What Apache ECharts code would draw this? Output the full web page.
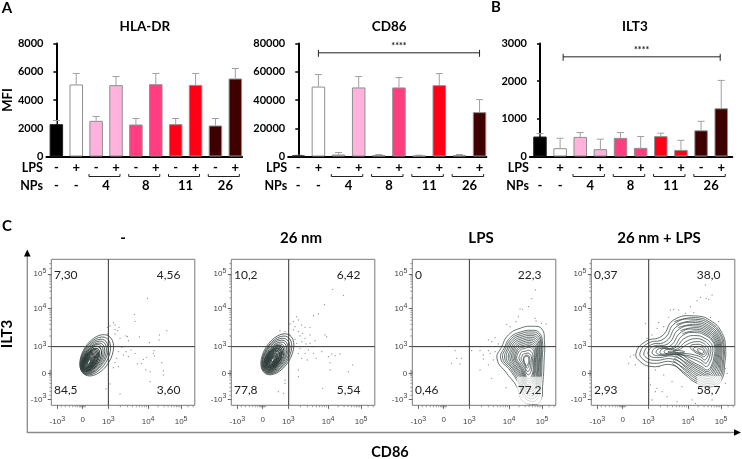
<!DOCTYPE html>
<html>
<head>
<meta charset="utf-8">
<style>
	html, body {margin: 0; padding: 0; background: #fff;}
	#main {width: 742px; height: 459px;}
</style>
<script src="https://cdn.jsdelivr.net/npm/echarts@6/dist/echarts.min.js"></script>
</head>
<body>
<div id="main"></div>
<script>
const barColors = ['#000000', '#ffffff', '#ffb3dc', '#ffb3dc', '#ff3d80', '#ff3d80', '#ff0016', '#ff0016', '#3f0000', '#3f0000']
const lpsLabels = ['-', '+', '-', '+', '-', '+', '-', '+', '-', '+']
const npTicks = [0, 1, 2.5, 4.5, 6.5, 8.5]
const npLabels = ['-', '-', '4', '8', '11', '26']
const npGroups = [2, 4, 6, 8]

const hlaValues = [2290, 5100, 2525, 5050, 2265, 5120, 2290, 5070, 2195, 5520]
const hlaErrors = [2550, 5880, 2830, 5660, 2690, 5880, 2690, 5880, 2690, 6230]
const cd86Values = [700, 49500, 1400, 48900, 900, 48900, 600, 50500, 900, 31400]
const cd86Errors = [900, 58000, 2800, 56600, 1400, 55900, 900, 58700, 1400, 40300]
const ilt3Values = [530, 220, 520, 195, 495, 230, 540, 175, 695, 1280]
const ilt3Errors = [610, 485, 635, 460, 635, 530, 620, 430, 935, 2020]

const flowTicksX = [18, 94, 171, 290, 389]
const flowTicksY = [18, 95, 176, 290, 394]
const flowTickText = ['{b|-10}{s|3}', '{b|0}', '{b|10}{s|3}', '{b|10}{s|4}', '{b|10}{s|5}']
const flowMinorX = [30, 42, 54, 64, 72, 78, 84, 87, 90, 93, 96, 99, 102, 207, 228, 243, 255, 264, 272, 279, 285, 320, 338, 350, 360, 368, 375, 380, 385, 410, 425]
const flowMinorY = [30, 42, 54, 66, 76, 84, 89, 92, 95, 98, 101, 104, 208, 228, 243, 255, 264, 272, 279, 285, 322, 342, 354, 364, 372, 379, 385, 390, 410, 425]

const gates1 = [171, 176]
const gates2 = [172, 176]
const gates3 = [171, 176]
const gates4 = [172, 176]

const quad1 = ['7,30', '4,56', '84,5', '3,60']
const quad2 = ['10,2', '6,42', '77,8', '5,54']
const quad3 = ['0', '22,3', '0,46', '77,2']
const quad4 = ['0,37', '38,0', '2,93', '58,7']

// x, y, long radius, short radius (flow channels)
const ellipses1 = [[136, 150, 68, 42], [132, 148, 63, 37], [129, 146, 58, 33], [127, 144, 54, 30], [125, 142, 50, 27], [123, 141, 46, 25], [121, 139, 42, 23], [119, 137, 38, 20], [118, 136, 35, 18], [117, 135, 32, 17], [116, 134, 29, 15], [115, 133, 26, 13], [114, 132, 23, 12], [114, 131, 20, 10], [113, 130, 17, 9], [113, 130, 14, 7], [113, 130, 11, 5], [113, 130, 8, 3]]
const ellipses2 = [[138, 153, 68, 40], [136, 151, 63, 36], [134, 149, 58, 33], [132, 147, 54, 30], [131, 145, 50, 27], [129, 143, 46, 25], [128, 142, 42, 23], [127, 141, 38, 20], [126, 140, 35, 19], [126, 140, 32, 17], [125, 139, 29, 15], [125, 138, 26, 14], [124, 137, 23, 12], [124, 137, 20, 10], [124, 136, 17, 9], [124, 136, 14, 7], [124, 136, 11, 5], [124, 136, 7, 3]]

const rings3 = [
	[[361, 237], [388, 229], [396, 191], [395, 136], [391, 66], [383, 11], [358, 3], [328, 16], [313, 56], [283, 96], [254, 139], [268, 176], [288, 211], [323, 231]],
	[[358, 225], [380, 218], [390, 190], [389, 136], [385, 66], [375, 20], [355, 12], [332, 30], [318, 66], [293, 105], [265, 140], [277, 175], [295, 205], [325, 220]],
	[[357, 220], [378, 213], [387, 187], [386, 136], [382, 70], [372, 28], [353, 20], [333, 38], [320, 70], [296, 108], [271, 140], [281, 173], [298, 201], [326, 215]],
	[[356, 214], [376, 208], [385, 185], [384, 136], [380, 75], [370, 35], [352, 28], [335, 45], [322, 75], [300, 110], [277, 140], [286, 172], [302, 198], [328, 210]],
	[[355, 209], [374, 203], [382, 182], [381, 136], [377, 78], [367, 42], [351, 35], [336, 50], [324, 80], [303, 111], [282, 140], [290, 170], [305, 194], [329, 205]],
	[[355, 204], [372, 198], [380, 180], [379, 136], [375, 82], [365, 48], [350, 42], [338, 56], [326, 84], [307, 112], [288, 140], [295, 168], [308, 190], [330, 200]],
	[[354, 199], [370, 193], [377, 176], [376, 136], [373, 86], [363, 54], [349, 48], [338, 61], [328, 87], [310, 114], [293, 140], [299, 166], [311, 186], [331, 195]],
	[[353, 194], [368, 188], [375, 172], [374, 136], [371, 90], [361, 60], [349, 55], [339, 66], [330, 90], [313, 115], [298, 140], [303, 165], [314, 182], [332, 190]],
	[[352, 189], [366, 183], [372, 168], [371, 136], [368, 94], [359, 66], [348, 61], [339, 72], [331, 94], [316, 118], [302, 140], [306, 162], [316, 178], [333, 185]],
	[[352, 184], [364, 178], [370, 165], [369, 136], [366, 98], [358, 72], [348, 68], [340, 78], [332, 98], [319, 120], [306, 140], [310, 160], [319, 174], [334, 180]],
	[[351, 179], [362, 173], [367, 161], [366, 136], [364, 101], [356, 78], [347, 74], [340, 83], [333, 101], [321, 122], [309, 140], [313, 158], [321, 170], [335, 175]],
	[[350, 174], [360, 168], [365, 158], [364, 136], [362, 105], [355, 84], [347, 80], [341, 88], [335, 104], [324, 124], [313, 140], [317, 156], [324, 166], [336, 170]],
	[[349, 165], [357, 160], [361, 150], [360, 136], [358, 112], [352, 94], [346, 92], [341, 98], [337, 110], [328, 126], [320, 140], [323, 152], [328, 160], [338, 162]],
	[[347, 157], [353, 152], [357, 145], [356, 134], [354, 116], [350, 104], [345, 102], [341, 106], [338, 116], [332, 128], [326, 140], [329, 148], [333, 154], [340, 155]],
	[[346, 150], [351, 145], [352, 134], [350, 120], [346, 112], [342, 114], [338, 124], [333, 136], [335, 146], [341, 150]],
	[[345, 147], [349, 138], [347, 124], [343, 118], [339, 122], [335, 132], [336, 144]]
]
const rings4 = [
	[[134, 156], [162, 191], [212, 208], [247, 256], [312, 268], [362, 251], [392, 216], [402, 176], [400, 126], [390, 76], [362, 56], [317, 66], [282, 91], [242, 121], [182, 116], [147, 131]],
	[[146, 158], [170, 186], [218, 200], [252, 247], [312, 258], [358, 242], [385, 212], [395, 176], [393, 130], [384, 86], [360, 66], [320, 76], [286, 100], [244, 130], [185, 126], [155, 138]],
	[[158, 158], [178, 181], [224, 192], [258, 238], [313, 248], [354, 233], [378, 208], [388, 176], [386, 134], [378, 96], [357, 76], [323, 86], [290, 108], [247, 138], [190, 135], [165, 143]],
	[[170, 159], [186, 177], [230, 185], [264, 229], [314, 238], [350, 225], [372, 204], [382, 176], [380, 140], [372, 106], [354, 86], [326, 96], [294, 116], [250, 146], [196, 143], [176, 148]],
	[[182, 160], [194, 173], [236, 178], [270, 220], [315, 228], [346, 217], [366, 200], [376, 176], [374, 144], [366, 114], [351, 96], [329, 106], [298, 124], [254, 152], [202, 149], [188, 151]],
	[[194, 160], [204, 170], [242, 172], [276, 211], [316, 218], [343, 209], [361, 195], [370, 174], [368, 148], [361, 122], [348, 106], [331, 116], [302, 131], [258, 157], [210, 153], [199, 154]],
	[[206, 161], [216, 170], [250, 172], [281, 202], [317, 209], [340, 201], [356, 189], [364, 172], [362, 150], [356, 130], [345, 116], [332, 125], [306, 138], [263, 152], [220, 150], [209, 154]],
	[[218, 161], [230, 168], [255, 168], [287, 193], [318, 200], [338, 193], [351, 183], [358, 170], [356, 152], [351, 136], [342, 126], [332, 134], [310, 144], [268, 152], [232, 153]],
	[[230, 161], [258, 165], [292, 185], [319, 191], [336, 186], [346, 177], [352, 168], [351, 154], [346, 142], [339, 136], [332, 142], [314, 150], [274, 156], [240, 156]],
	[[245, 162], [262, 164], [280, 160], [262, 158]],
	[[296, 177], [320, 183], [334, 179], [342, 172], [347, 165], [346, 156], [341, 148], [336, 146], [326, 152], [310, 160]],
	[[305, 170], [322, 176], [333, 173], [339, 166], [341, 158], [336, 152], [326, 156], [314, 162]],
	[[318, 168], [330, 168], [336, 162], [334, 156], [326, 158]]
]
// right side of the last panel has more levels than the left lobe, these stop where the levels merge
const arcs4 = [
	[[249, 251], [312, 263], [360, 246], [388, 214], [398, 176], [396, 128], [387, 81], [361, 61], [318, 71], [284, 95], [243, 125]],
	[[255, 242], [312, 253], [356, 237], [381, 210], [391, 176], [389, 132], [381, 91], [358, 71], [321, 81], [288, 104], [245, 134]],
	[[261, 233], [313, 243], [352, 229], [375, 206], [385, 176], [383, 137], [375, 101], [355, 81], [324, 91], [292, 112], [248, 142]],
	[[267, 224], [314, 233], [348, 221], [369, 202], [379, 176], [377, 142], [369, 110], [352, 91], [327, 101], [296, 120], [252, 149]],
	[[273, 215], [315, 223], [344, 213], [363, 197], [373, 175], [371, 146], [363, 118], [349, 101], [330, 111], [300, 127], [256, 154]]
]

const dots1 = [[288, 321], [249, 273], [251, 252], [186, 248], [191, 241], [176, 238], [168, 234], [203, 234], [191, 228], [198, 224], [168, 214], [191, 214], [224, 208], [228, 206], [206, 201], [264, 205], [346, 224], [324, 211], [323, 196], [294, 188], [231, 194], [239, 166], [251, 156], [211, 174], [224, 161], [201, 161], [216, 151], [231, 146], [196, 141], [191, 128], [201, 116], [186, 113], [308, 164], [306, 156], [309, 148], [286, 144], [276, 138], [258, 124], [271, 126], [296, 101], [283, 106], [331, 128], [336, 104], [336, 91], [296, 71], [206, 34], [176, 64], [164, 49], [176, 181]]
const dots2 = [[304, 348], [336, 330], [279, 302], [261, 274], [246, 269], [196, 266], [186, 251], [201, 256], [176, 244], [211, 241], [191, 236], [221, 234], [236, 234], [146, 224], [161, 221], [186, 226], [201, 221], [176, 211], [214, 216], [236, 211], [221, 201], [211, 191], [281, 211], [286, 206], [251, 194], [246, 176], [231, 166], [221, 156], [246, 156], [206, 171], [201, 156], [211, 141], [228, 136], [301, 154], [326, 154], [311, 149], [291, 146], [271, 161], [296, 128], [364, 121], [351, 101], [296, 106], [201, 106], [201, 86], [161, 76], [161, 66], [141, 41], [156, 36], [274, 51], [254, 141], [236, 186], [196, 186], [191, 198], [206, 208], [224, 184]]
const dots3 = [[369, 346], [358, 320], [348, 296], [323, 289], [331, 288], [318, 266], [368, 261], [311, 251], [283, 243], [293, 236], [371, 253], [387, 246], [401, 244], [228, 196], [248, 203], [238, 191], [258, 184], [248, 161], [178, 164], [203, 164], [228, 164], [213, 151], [233, 156], [213, 139], [243, 136], [128, 164], [133, 141], [148, 141], [118, 126], [143, 124], [228, 121], [203, 106], [238, 81], [281, 53]]
const dots4 = [[342, 361], [327, 324], [344, 321], [362, 331], [352, 318], [317, 314], [297, 296], [247, 288], [237, 286], [262, 286], [232, 264], [282, 276], [307, 278], [357, 264], [382, 251], [202, 248], [217, 236], [162, 246], [197, 231], [182, 211], [167, 201], [117, 146], [112, 126], [127, 151], [132, 121], [172, 81], [177, 61], [197, 51], [192, 41], [212, 41], [227, 26], [257, 11], [302, 16], [312, 6], [362, 16], [402, 66], [407, 96], [402, 111], [192, 106], [202, 116], [242, 71], [272, 56], [182, 16], [217, 91]]

const bold = 'Lato'
const tickFont = '"Liberation Sans"'
const lineGrey = '#a0a0a0'

const barPanels = [
	{title: 'HLA-DR', values: hlaValues, errors: hlaErrors, left: 43.9, width: 198.2, xMax: 9.34, max: 8000, interval: 2000, name: 'MFI'},
	{title: 'CD86', values: cd86Values, errors: cd86Errors, left: 288.2, width: 198.2, xMax: 9.34, max: 80000, interval: 20000, sig: [1, 9, 73400]},
	{title: 'ILT3', values: ilt3Values, errors: ilt3Errors, left: 529.9, width: 202.4, xMax: 9.55, max: 3000, interval: 1000, sig: [1.15, 8.95, 2646]}
]
const flowPanels = [
	{title: '-', titleX: 123, left: 51.3, ellipses: ellipses1, dots: dots1, gates: gates1, quad: quad1},
	{title: '26 nm', titleX: 301, left: 231.3, ellipses: ellipses2, dots: dots2, gates: gates2, quad: quad2},
	{title: 'LPS', titleX: 481, left: 412.3, rings: rings3, dots: dots3, gates: gates3, quad: quad3, patch: [313, 3, 388, 86]},
	{title: '26 nm + LPS', titleX: 659, left: 591.3, rings: rings4, arcs: arcs4, dots: dots4, gates: gates4, quad: quad4, patch: [317, 56, 390, 88]}
]

let grid = []
let xAxis = []
let yAxis = []
let series = []
let graphic = []

function headText(text, x, y, size, extra){
	return Object.assign({
		type: 'text',
		x: x,
		y: y,
		silent: true,
		style: {text: text, fill: '#000', font: `bold ${size}px ${bold}`, textAlign: 'center', textVerticalAlign: 'middle'}
	}, extra || {})
}

barPanels.forEach((p, n) => {
	let gridIndex = grid.length
	let xIndex = xAxis.length
	let yIndex = yAxis.length
	grid.push({left: p.left, top: 43.5, width: p.width, height: 113})
	xAxis.push({
		gridIndex: gridIndex,
		type: 'value',
		min: -0.5,
		max: p.xMax,
		splitLine: {show: false},
		axisLine: {lineStyle: {color: '#000', width: 2}},
		axisTick: {show: false},
		axisLabel: {
			customValues: lpsLabels.map((v, i) => i),
			formatter: v => lpsLabels[v],
			color: '#000',
			fontFamily: bold,
			fontWeight: 'bold',
			fontSize: 13,
			margin: 5
		}
	})
	xAxis.push({
		gridIndex: gridIndex,
		type: 'value',
		position: 'bottom',
		offset: 18,
		min: -0.5,
		max: p.xMax,
		splitLine: {show: false},
		axisLine: {show: false},
		axisTick: {show: false},
		axisLabel: {
			customValues: npTicks,
			formatter: v => npLabels[npTicks.indexOf(v)],
			color: '#000',
			fontFamily: bold,
			fontWeight: 'bold',
			fontSize: 13,
			margin: 5
		}
	})
	yAxis.push({
		gridIndex: gridIndex,
		type: 'value',
		min: 0,
		max: p.max,
		interval: p.interval,
		name: p.name,
		nameLocation: 'middle',
		nameGap: 27,
		nameTextStyle: {color: '#000', fontFamily: bold, fontWeight: 'bold', fontSize: 13},
		splitLine: {show: false},
		axisLine: {show: true, lineStyle: {color: '#000', width: 2}},
		axisTick: {show: true, length: 3, lineStyle: {color: '#000', width: 1.5}},
		axisLabel: {formatter: v => String(v), color: '#000', fontFamily: bold, fontWeight: 'bold', fontSize: 11, margin: 3}
	})
	series.push({
		type: 'bar',
		xAxisIndex: xIndex,
		yAxisIndex: yIndex,
		barWidth: 13.5,
		data: p.values.map((v, i) => ({
			value: [i, v],
			itemStyle: {color: barColors[i], borderColor: i === 0 ? '#222' : '#8f8f8f', borderWidth: 1}
		}))
	})
	// error bars, upper side only
	series.push({
		type: 'custom',
		xAxisIndex: xIndex,
		yAxisIndex: yIndex,
		clip: false,
		z: 1,
		data: p.values.map((v, i) => [i, v, p.errors[i]]),
		renderItem: (params, api) => {
			let low = api.coord([api.value(0), api.value(1)])
			let high = api.coord([api.value(0), api.value(2)])
			return {
				type: 'group',
				children: [
					{type: 'line', shape: {x1: low[0], y1: low[1], x2: high[0], y2: high[1]}, style: {stroke: lineGrey, lineWidth: 1}},
					{type: 'line', shape: {x1: high[0] - 3.5, y1: high[1], x2: high[0] + 3.5, y2: high[1]}, style: {stroke: lineGrey, lineWidth: 1}}
				]
			}
		}
	})
	// group brackets under the NP labels
	series.push({
		type: 'custom',
		xAxisIndex: xIndex,
		yAxisIndex: yIndex,
		clip: false,
		data: npGroups.map(v => [v]),
		renderItem: (params, api) => {
			let a = api.coord([api.value(0) - 0.36, 0])
			let b = api.coord([api.value(0) + 1.2, 0])
			let y = a[1] + 20
			return {
				type: 'polyline',
				shape: {points: [[a[0], y - 2.5], [a[0], y], [b[0], y], [b[0], y - 2.5]]},
				style: {stroke: '#222', lineWidth: 1, fill: 'none'}
			}
		}
	})
	if(p.sig){
		series.push({
			type: 'custom',
			xAxisIndex: xIndex,
			yAxisIndex: yIndex,
			clip: false,
			data: [p.sig],
			renderItem: (params, api) => {
				let a = api.coord([api.value(0), api.value(2)])
				let b = api.coord([api.value(1), api.value(2)])
				return {
					type: 'group',
					children: [
						{type: 'line', shape: {x1: a[0], y1: a[1], x2: b[0], y2: b[1]}, style: {stroke: '#222', lineWidth: 1}},
						{type: 'line', shape: {x1: a[0], y1: a[1] - 3, x2: a[0], y2: a[1] + 4}, style: {stroke: '#222', lineWidth: 1}},
						{type: 'line', shape: {x1: b[0], y1: a[1] - 3, x2: b[0], y2: a[1] + 4}, style: {stroke: '#222', lineWidth: 1}},
						{type: 'text', x: (a[0] + b[0]) / 2, y: a[1] - 6.5, style: {text: '****', fill: '#222', font: `bold 9px ${bold}`, textAlign: 'center', textVerticalAlign: 'middle'}}
					]
				}
			}
		})
	}
	graphic.push(headText(p.title, p.left + (n === 2 ? 105 : 101), 27, 13.5))
	graphic.push(headText('LPS', p.left - 1, 168, 12.5, {style: {text: 'LPS', fill: '#000', font: `bold 12.5px ${bold}`, textAlign: 'right', textVerticalAlign: 'middle'}}))
	graphic.push(headText('NPs', p.left - 1, 186, 12.5, {style: {text: 'NPs', fill: '#000', font: `bold 12.5px ${bold}`, textAlign: 'right', textVerticalAlign: 'middle'}}))
})

flowPanels.forEach(p => {
	let gridIndex = grid.length
	let xIndex = xAxis.length
	let yIndex = yAxis.length
	let base = {xAxisIndex: xIndex, yAxisIndex: yIndex, silent: true}
	let rich = {
		b: {fontFamily: tickFont, fontSize: 8, color: '#444'},
		s: {fontFamily: tickFont, fontSize: 7, color: '#444', padding: [0, 0, 6, 0]}
	}
	grid.push({left: p.left, top: 259.3, width: 143.5, height: 146, show: true, borderColor: '#7a7a7a', borderWidth: 1})
	xAxis.push({
		gridIndex: gridIndex,
		type: 'value',
		min: 0,
		max: 430,
		splitLine: {show: false},
		axisLine: {show: false},
		axisTick: {show: true, customValues: flowTicksX, length: 3.5, lineStyle: {color: '#666', width: 1}},
		axisLabel: {customValues: flowTicksX, formatter: v => flowTickText[flowTicksX.indexOf(v)], rich: rich, margin: 10}
	})
	yAxis.push({
		gridIndex: gridIndex,
		type: 'value',
		min: 0,
		max: 438,
		splitLine: {show: false},
		axisLine: {show: false},
		axisTick: {show: true, customValues: flowTicksY, length: 3.5, lineStyle: {color: '#666', width: 1}},
		axisLabel: {customValues: flowTicksY, formatter: v => flowTickText[flowTicksY.indexOf(v)], rich: rich, margin: 5}
	})
	if(p.ellipses){
		series.push(Object.assign({}, base, {
			type: 'custom',
			z: 2,
			data: p.ellipses,
			renderItem: (params, api) => {
				let c = api.coord([api.value(0), api.value(1)])
				let unit = api.size([1, 1])
				return {
					type: 'ellipse',
					x: c[0],
					y: c[1],
					rotation: 58 * Math.PI / 180,
					shape: {cx: 0, cy: 0, rx: api.value(2) * unit[0], ry: api.value(3) * unit[0]},
					style: {fill: 'none', stroke: '#2f3d3a', lineWidth: params.dataIndex > 5 ? 1 : 0.7}
				}
			}
		}))
	}
	if(p.rings){
		series.push(Object.assign({}, base, {
			type: 'custom',
			z: 2,
			data: p.rings.map((r, i) => [i]),
			renderItem: (params, api) => ({
				type: 'polygon',
				shape: {points: p.rings[params.dataIndex].map(pt => api.coord(pt)), smooth: 0.5},
				style: {fill: 'none', stroke: '#3f4d4a', lineWidth: 0.8}
			})
		}))
	}
	if(p.arcs){
		series.push(Object.assign({}, base, {
			type: 'custom',
			z: 2,
			data: p.arcs.map((r, i) => [i]),
			renderItem: (params, api) => ({
				type: 'polyline',
				shape: {points: p.arcs[params.dataIndex].map(pt => api.coord(pt)), smooth: 0.5},
				style: {fill: 'none', stroke: '#3f4d4a', lineWidth: 0.8}
			})
		}))
	}
	if(p.patch){
		series.push(Object.assign({}, base, {
			type: 'custom',
			z: 3,
			data: [p.patch],
			renderItem: (params, api) => {
				let a = api.coord([api.value(0), api.value(3)])
				let b = api.coord([api.value(2), api.value(1)])
				return {type: 'rect', shape: {x: a[0], y: a[1], width: b[0] - a[0], height: b[1] - a[1]}, style: {fill: 'rgba(255,255,255,0.72)'}}
			}
		}))
	}
	series.push(Object.assign({}, base, {
		type: 'scatter',
		z: 2,
		symbolSize: 1.2,
		itemStyle: {color: '#666'},
		data: p.dots
	}))
	series.push(Object.assign({}, base, {
		type: 'line',
		z: 4,
		symbol: 'none',
		lineStyle: {color: '#333', width: 1},
		data: [[p.gates[0], 0], [p.gates[0], 438]]
	}))
	series.push(Object.assign({}, base, {
		type: 'line',
		z: 4,
		symbol: 'none',
		lineStyle: {color: '#333', width: 1},
		data: [[0, p.gates[1]], [430, p.gates[1]]]
	}))
	// small ticks outside the box
	series.push(Object.assign({}, base, {
		type: 'custom',
		clip: false,
		data: flowMinorX.map(v => [v, 0]),
		renderItem: (params, api) => {
			let c = api.coord([api.value(0), 0])
			return {type: 'line', shape: {x1: c[0], y1: c[1], x2: c[0], y2: c[1] + 2}, style: {stroke: '#777', lineWidth: 0.7}}
		}
	}))
	series.push(Object.assign({}, base, {
		type: 'custom',
		clip: false,
		data: flowMinorY.map(v => [0, v]),
		renderItem: (params, api) => {
			let c = api.coord([0, api.value(1)])
			return {type: 'line', shape: {x1: c[0], y1: c[1], x2: c[0] - 2, y2: c[1]}, style: {stroke: '#777', lineWidth: 0.7}}
		}
	}))
	// quadrant percentages
	series.push(Object.assign({}, base, {
		type: 'custom',
		z: 5,
		data: [[8, 392], [387, 392], [8, 46], [387, 46]],
		renderItem: (params, api) => {
			let i = params.dataIndex
			let c = api.coord([api.value(0), api.value(1)])
			return {
				type: 'text',
				x: c[0],
				y: c[1],
				style: {text: p.quad[i], fill: '#222', font: `12px ${bold}`, textAlign: i % 2 ? 'right' : 'left', textVerticalAlign: 'middle'}
			}
		}
	}))
	graphic.push(headText(p.title, p.titleX, 238.5, 15))
})

graphic.push(headText('A', 7, 8, 15))
graphic.push(headText('B', 496, 7, 15))
graphic.push(headText('C', 7, 226, 15))
graphic.push(headText('ILT3', 7, 334, 15, {rotation: Math.PI / 2}))
graphic.push(headText('CD86', 390, 452, 14.5))
graphic.push({
	type: 'polyline',
	silent: true,
	shape: {points: [[27.3, 255], [27.3, 432.5], [735, 432.5]]},
	style: {stroke: '#8a8a8a', lineWidth: 1.3, fill: 'none'}
})
graphic.push({type: 'polygon', silent: true, shape: {points: [[27.3, 249.5], [24, 256.5], [30.6, 256.5]]}, style: {fill: '#000'}})
graphic.push({type: 'polygon', silent: true, shape: {points: [[741, 432.5], [734, 429.2], [734, 435.8]]}, style: {fill: '#000'}})

let myChart = echarts.init(document.getElementById('main'), null, {renderer: 'canvas'})
myChart.setOption({
	animation: false,
	backgroundColor: '#fff',
	grid: grid,
	xAxis: xAxis,
	yAxis: yAxis,
	series: series,
	graphic: {elements: graphic}
})
</script>
</body>
</html>
